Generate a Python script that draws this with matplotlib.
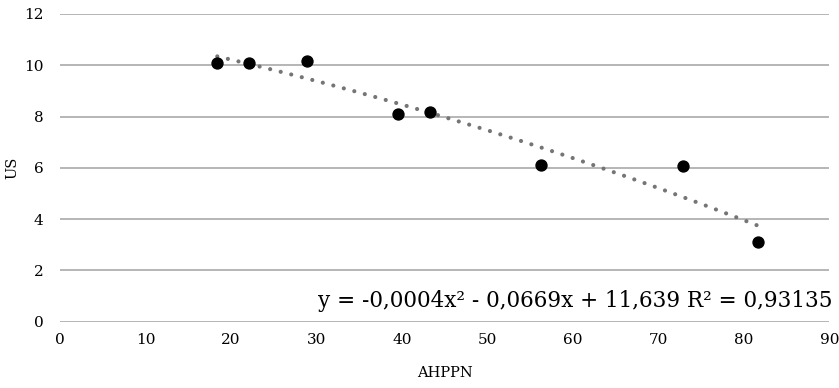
import numpy as np
import matplotlib
matplotlib.use("Agg")
import matplotlib.pyplot as plt

plt.rcParams["font.family"] = ["DejaVu Serif"]

# data
ahppn = [18.4, 22.1, 28.9, 39.5, 43.3, 56.3, 72.9, 81.7]
us = [10.07, 10.10, 10.18, 8.11, 8.18, 6.11, 6.07, 3.10]
x_ticks = [0, 10, 20, 30, 40, 50, 60, 70, 80, 90]
y_ticks = [0, 2, 4, 6, 8, 10, 12]
equation = "y = -0,0004x² - 0,0669x + 11,639 R² = 0,93135"

fig = plt.figure(figsize=(8.39, 3.88), dpi=100)
ax = fig.add_axes([0.0715, 0.171, 0.917, 0.793])

# polynomial trendline (order 2)
coef = np.polyfit(ahppn, us, 2)
xs = np.linspace(min(ahppn), max(ahppn), 200)
ax.plot(xs, np.polyval(coef, xs), color="#757575", linewidth=3.0,
        linestyle=(0, (0.01, 2.6)), dash_capstyle="round", zorder=2)

ax.scatter(ahppn, us, s=62, color="black", zorder=3)

ax.set_xlim(0, 90)
ax.set_ylim(0, 12)
ax.set_xticks(x_ticks)
ax.set_yticks(y_ticks)
ax.grid(axis="y", color="#b0b0b0", linewidth=1.3)
ax.set_axisbelow(True)
for s in ax.spines.values():
    s.set_visible(False)
ax.tick_params(length=0, labelsize=11, pad=8)
ax.tick_params(axis="y", pad=12)

ax.set_xlabel("AHPPN", fontsize=10.5, labelpad=14)
ax.set_ylabel("US", fontsize=10.5, labelpad=3)

fig.text(833 / 839, 1 - 307 / 388, equation, ha="right", va="baseline",
         fontsize=15.5)

fig.savefig("out.png", dpi=100)
plt.close(fig)
